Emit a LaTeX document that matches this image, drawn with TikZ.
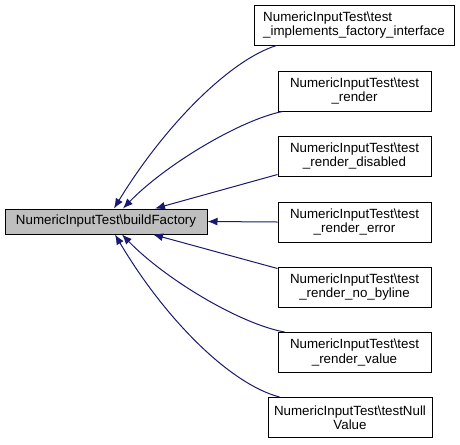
\documentclass[tikz,border=0pt]{standalone}
\usepackage{fontspec}
\setmainfont{Liberation Sans}
\usepackage{xcolor}
\usetikzlibrary{arrows.meta, calc}
\definecolor{edgeblue}{HTML}{191970}
\definecolor{maingray}{HTML}{BFBFBF}

\begin{document}
\begin{tikzpicture}[x = 0.75pt, y = -0.75pt,
	box/.style = {draw = black, line width = 0.75pt, fill = white, inner sep = 1pt, align = center,
		font = \fontsize{10}{10.8}\selectfont, minimum width = 114.75pt, minimum height = 30pt},
	edge/.style = {draw = edgeblue, line width = 0.75pt, -{Latex[length = 7.5pt, width = 6pt]}}]
	\useasboundingbox (0, 0) rectangle (460, 444);

	\node[box, fill = maingray, minimum width = 151.5pt, minimum height = 18.75pt] (build) at (106, 221.5) {NumericInputTest\textbackslash buildFactory};

	\node[box, align = left, minimum width = 150pt] (impl) at (354, 25) {NumericInputTest\textbackslash test\\\_implements\_factory\_interface};
	\node[box] (render) at (354.5, 91) {NumericInputTest\textbackslash test\\\_render};
	\node[box] (disabled) at (354.5, 156) {NumericInputTest\textbackslash test\\\_render\_disabled};
	\node[box] (error) at (354.5, 222) {NumericInputTest\textbackslash test\\\_render\_error};
	\node[box] (byline) at (354.5, 287) {NumericInputTest\textbackslash test\\\_render\_no\_byline};
	\node[box] (value) at (354.5, 352.5) {NumericInputTest\textbackslash test\\\_render\_value};
	\node[box, minimum width = 123pt] (null) at (350, 417.5) {NumericInputTest\textbackslash testNull\\Value};

	\draw[edge] ($(impl.south west) + (23, 0)$) .. controls (230, 60) and (165, 125) .. ($(build.north) + (8, 0)$);
	\draw[edge] ($(render.south west) + (5, 0)$) .. controls (240, 120) and (165, 165) .. ($(build.north) + (17, 0)$);
	\draw[edge] ($(disabled.south west) + (0, -2)$) -- ($(build.north) + (49, 0)$);
	\draw[edge] (error.west) -- (build.east);
	\draw[edge] ($(byline.north west) + (0, 2)$) -- ($(build.south) + (47, 0)$);
	\draw[edge] ($(value.north west) + (7, 0)$) .. controls (240, 324) and (165, 279) .. ($(build.south) + (16, 0)$);
	\draw[edge] ($(null.north west) + (12, 0)$) .. controls (230, 384) and (165, 319) .. ($(build.south) + (9, 0)$);
\end{tikzpicture}
\end{document}
